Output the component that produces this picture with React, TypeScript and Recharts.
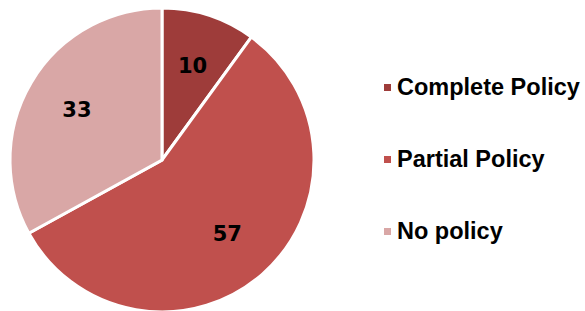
import { PieChart, Pie, Cell, Legend } from "recharts";

const categories = ["Complete Policy", "Partial Policy", "No policy"];
const values = [10, 57, 33];
const colors = ["#9E3C3A", "#C0504D", "#D9A7A6"];

const data = categories.map((name, i) => ({ name, value: values[i] }));

const RADIAN = Math.PI / 180;
const LABEL_FONT = "DejaVu Sans, Arial, sans-serif";
const LEGEND_FONT = "Liberation Sans, Arial, sans-serif";

const renderLabel = (props: any) => {
  const { cx, cy, midAngle, outerRadius, value } = props;
  const r = outerRadius * 0.65;
  const x = cx + r * Math.cos(-midAngle * RADIAN);
  const y = cy + r * Math.sin(-midAngle * RADIAN);
  return (
    <text
      x={x}
      y={y}
      fill="#000"
      textAnchor="middle"
      dominantBaseline="central"
      fontFamily={LABEL_FONT}
      fontWeight="bold"
      fontSize={21}
    >
      {value}
    </text>
  );
};

const renderLegend = () => (
  <div style={{ fontFamily: LEGEND_FONT }}>
    {data.map((d, i) => (
      <div
        key={d.name}
        style={{
          display: "flex",
          alignItems: "center",
          height: 26,
          marginBottom: i < data.length - 1 ? 46 : 0,
        }}
      >
        <span
          style={{
            width: 7,
            height: 7,
            background: colors[i],
            marginRight: 6,
            display: "inline-block",
          }}
        />
        <span style={{ fontSize: 23.5, fontWeight: "bold", color: "#000", whiteSpace: "nowrap" }}>
          {d.name}
        </span>
      </div>
    ))}
  </div>
);

export default function App() {
  return (
    <div style={{ position: "absolute", left: 0, top: 0, background: "#fff" }}>
      <PieChart width={585} height={311} margin={{ top: 0, right: 0, bottom: 0, left: 0 }}>
        <Pie
          data={data}
          dataKey="value"
          nameKey="name"
          cx={162}
          cy={160}
          outerRadius={152}
          startAngle={90}
          endAngle={-270}
          stroke="#fff"
          strokeWidth={3}
          label={renderLabel}
          labelLine={false}
          isAnimationActive={false}
        >
          {data.map((d, i) => (
            <Cell key={d.name} fill={colors[i]} />
          ))}
        </Pie>
        <Legend
          content={renderLegend}
          wrapperStyle={{ position: "absolute", left: 384, top: 74, width: 201 }}
        />
      </PieChart>
    </div>
  );
}
